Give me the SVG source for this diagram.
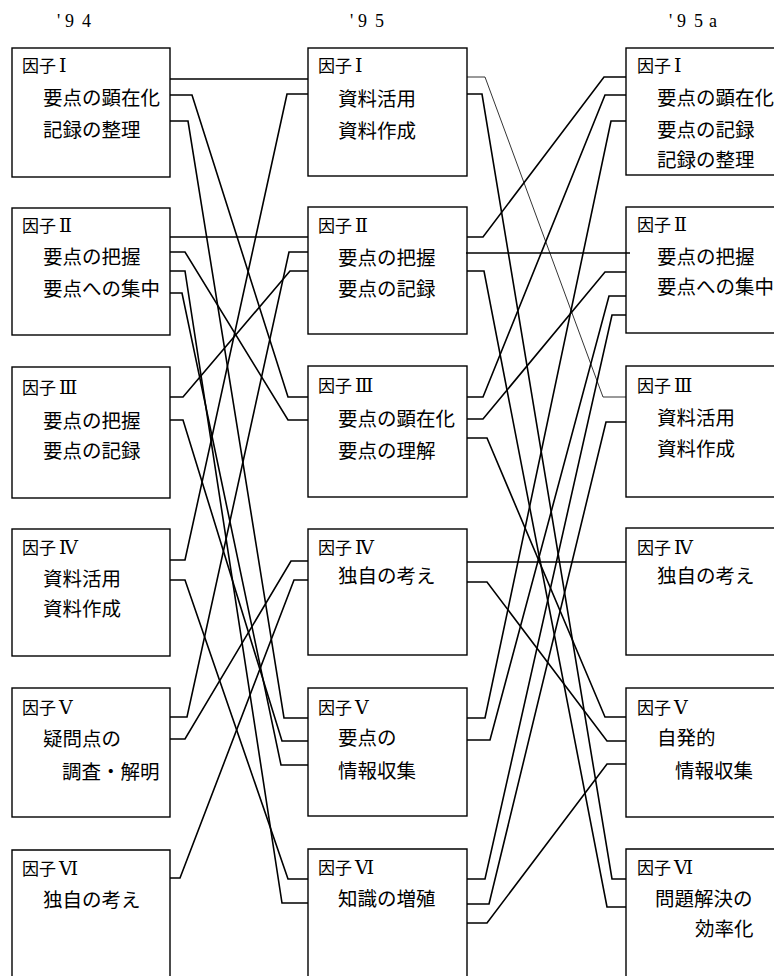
<svg xmlns="http://www.w3.org/2000/svg" width="774" height="976" viewBox="0 0 774 976">
<style>
  .box { fill: #fff; stroke: #000; stroke-width: 1.4; }
  .h { font-family: "Noto Sans CJK JP", "Noto Sans CJK SC", sans-serif; font-size: 17px; fill: #000; }
  .n { font-family: "DejaVu Serif", "Liberation Serif", serif; font-size: 19px; }
  .t { font-family: "Noto Sans CJK JP", "Noto Sans CJK SC", sans-serif; font-size: 19.5px; fill: #000; }
  .yr { font-family: "Liberation Serif", serif; font-size: 18px; fill: #000; }
  .c { fill: none; stroke: #000; stroke-width: 1.6; stroke-linejoin: miter; }
  .thin { fill: none; stroke: #000; stroke-width: 0.8; }
</style>
<rect x="0" y="0" width="774" height="976" fill="#fff"/>

<g id="headers">
  <text class="yr" x="57 65 82" y="27">'94</text>
  <text class="yr" x="350 358 375" y="27">'95</text>
  <text class="yr" x="669 677 694 709" y="27">'95a</text>
</g>

<!-- Left column '94 -->
<g id="L1">
  <rect class="box" x="12" y="48" width="158" height="129"/>
  <text class="h" x="22" y="71.5">因子<tspan class="n" dx="3">Ⅰ</tspan></text>
  <text class="t" x="43" y="104.5">要点の顕在化</text>
  <text class="t" x="43" y="136.5">記録の整理</text>
</g>
<g id="L2">
  <rect class="box" x="12" y="208" width="158" height="127"/>
  <text class="h" x="22" y="231.5">因子<tspan class="n" dx="3">Ⅱ</tspan></text>
  <text class="t" x="43" y="263.5">要点の把握</text>
  <text class="t" x="43" y="295.5">要点への集中</text>
</g>
<g id="L3">
  <rect class="box" x="12" y="367" width="158" height="131"/>
  <text class="h" x="22" y="393.5">因子<tspan class="n" dx="3">Ⅲ</tspan></text>
  <text class="t" x="43" y="427.5">要点の把握</text>
  <text class="t" x="43" y="457.5">要点の記録</text>
</g>
<g id="L4">
  <rect class="box" x="12" y="529" width="158" height="127"/>
  <text class="h" x="22" y="553.5">因子<tspan class="n" dx="3">Ⅳ</tspan></text>
  <text class="t" x="43" y="585.5">資料活用</text>
  <text class="t" x="43" y="615.5">資料作成</text>
</g>
<g id="L5">
  <rect class="box" x="12" y="688" width="158" height="129"/>
  <text class="h" x="22" y="713.5">因子<tspan class="n" dx="3">Ⅴ</tspan></text>
  <text class="t" x="43" y="745.5">疑問点の</text>
  <text class="t" x="62" y="778.5">調査・解明</text>
</g>
<g id="L6">
  <path class="box" d="M12,990 V850 H170 V990"/>
  <text class="h" x="22" y="874.5">因子<tspan class="n" dx="3">Ⅵ</tspan></text>
  <text class="t" x="43" y="906.5">独自の考え</text>
</g>

<!-- Middle column '95 -->
<g id="M1">
  <rect class="box" x="308" y="48" width="159" height="128"/>
  <text class="h" x="318" y="71.5">因子<tspan class="n" dx="3">Ⅰ</tspan></text>
  <text class="t" x="338" y="105.5">資料活用</text>
  <text class="t" x="338" y="137.5">資料作成</text>
</g>
<g id="M2">
  <rect class="box" x="308" y="207" width="159" height="127"/>
  <text class="h" x="318" y="231.5">因子<tspan class="n" dx="3">Ⅱ</tspan></text>
  <text class="t" x="338" y="264.5">要点の把握</text>
  <text class="t" x="338" y="295.5">要点の記録</text>
</g>
<g id="M3">
  <rect class="box" x="308" y="366" width="159" height="131"/>
  <text class="h" x="318" y="391.5">因子<tspan class="n" dx="3">Ⅲ</tspan></text>
  <text class="t" x="338" y="425.5">要点の顕在化</text>
  <text class="t" x="338" y="457.5">要点の理解</text>
</g>
<g id="M4">
  <rect class="box" x="308" y="529" width="159" height="126"/>
  <text class="h" x="318" y="553.5">因子<tspan class="n" dx="3">Ⅳ</tspan></text>
  <text class="t" x="338" y="582.5">独自の考え</text>
</g>
<g id="M5">
  <rect class="box" x="308" y="688" width="159" height="128"/>
  <text class="h" x="318" y="713.5">因子<tspan class="n" dx="3">Ⅴ</tspan></text>
  <text class="t" x="338" y="744.5">要点の</text>
  <text class="t" x="338" y="777.5">情報収集</text>
</g>
<g id="M6">
  <path class="box" d="M308,990 V849 H467 V990"/>
  <text class="h" x="318" y="873.5">因子<tspan class="n" dx="3">Ⅵ</tspan></text>
  <text class="t" x="338" y="905.5">知識の増殖</text>
</g>

<!-- Right column '95a -->
<g id="R1">
  <rect class="box" x="626" y="48" width="170" height="127"/>
  <text class="h" x="637" y="71.5">因子<tspan class="n" dx="3">Ⅰ</tspan></text>
  <text class="t" x="657" y="104.5">要点の顕在化</text>
  <text class="t" x="657" y="136.5">要点の記録</text>
  <text class="t" x="657" y="166.5">記録の整理</text>
</g>
<g id="R2">
  <rect class="box" x="626" y="207" width="170" height="126"/>
  <text class="h" x="637" y="230.5">因子<tspan class="n" dx="3">Ⅱ</tspan></text>
  <text class="t" x="657" y="263.5">要点の把握</text>
  <text class="t" x="657" y="293.5">要点への集中</text>
</g>
<g id="R3">
  <rect class="box" x="626" y="366" width="170" height="131"/>
  <text class="h" x="637" y="391.5">因子<tspan class="n" dx="3">Ⅲ</tspan></text>
  <text class="t" x="657" y="424.5">資料活用</text>
  <text class="t" x="657" y="455.5">資料作成</text>
</g>
<g id="R4">
  <rect class="box" x="626" y="528" width="170" height="127"/>
  <text class="h" x="637" y="553.5">因子<tspan class="n" dx="3">Ⅳ</tspan></text>
  <text class="t" x="657" y="582.5">独自の考え</text>
</g>
<g id="R5">
  <rect class="box" x="626" y="688" width="170" height="129"/>
  <text class="h" x="637" y="713.5">因子<tspan class="n" dx="3">Ⅴ</tspan></text>
  <text class="t" x="657" y="744.5">自発的</text>
  <text class="t" x="675" y="777.5">情報収集</text>
</g>
<g id="R6">
  <path class="box" d="M626,990 V849 H796"/>
  <text class="h" x="637" y="873.5">因子<tspan class="n" dx="3">Ⅵ</tspan></text>
  <text class="t" x="655" y="905.5">問題解決の</text>
  <text class="t" x="695" y="935.5">効率化</text>
</g>

<g id="connectors">
  <!-- '94 to '95 -->
  <polyline class="c" points="170,79 308,79"/>
  <polyline class="c" points="170,95 192,95 288,397 308,397"/>
  <polyline class="c" points="170,121 188,121 284,718 308,718"/>
  <polyline class="c" points="170,237 308,237"/>
  <polyline class="c" points="170,252 185,252 288,420 308,420"/>
  <polyline class="c" points="170,271 185,271 282,903 308,903"/>
  <polyline class="c" points="170,293 182,293 281,765 308,765"/>
  <polyline class="c" points="170,397 183,397 290,271 308,271"/>
  <polyline class="c" points="170,420 183,420 282,741 308,741"/>
  <polyline class="c" points="170,560 185,560 287,94 308,94"/>
  <polyline class="c" points="170,580 185,580 288,879 308,879"/>
  <polyline class="c" points="170,717 187,717 289,252 308,252"/>
  <polyline class="c" points="170,739 185,739 291,561 308,561"/>
  <polyline class="c" points="170,878 180,878 294,580 308,580"/>
  <!-- '95 to '95a -->
  <polyline class="thin" points="467,77 485,77 603,397 626,397"/>
  <polyline class="c" points="467,94 482,94 612,879 626,879"/>
  <polyline class="c" points="467,237 483,237 604,77 626,77"/>
  <polyline class="c" points="466,253 630,253"/>
  <polyline class="c" points="467,271 484,271 607,907 626,907"/>
  <polyline class="c" points="467,397 483,397 605,95 626,95"/>
  <polyline class="c" points="467,419 483,419 605,272 626,272"/>
  <polyline class="c" points="467,438 487,438 605,717 626,717"/>
  <polyline class="c" points="467,562 626,562"/>
  <polyline class="c" points="467,582 487,582 607,741 626,741"/>
  <polyline class="c" points="467,718 485,718 611,121 626,121"/>
  <polyline class="c" points="467,740 490,740 609,296 626,296"/>
  <polyline class="c" points="467,879 485,879 612,315 626,315"/>
  <polyline class="c" points="467,904 489,904 606,422 626,422"/>
  <polyline class="c" points="467,923 487,923 607,764 626,764"/>
</g>
</svg>
